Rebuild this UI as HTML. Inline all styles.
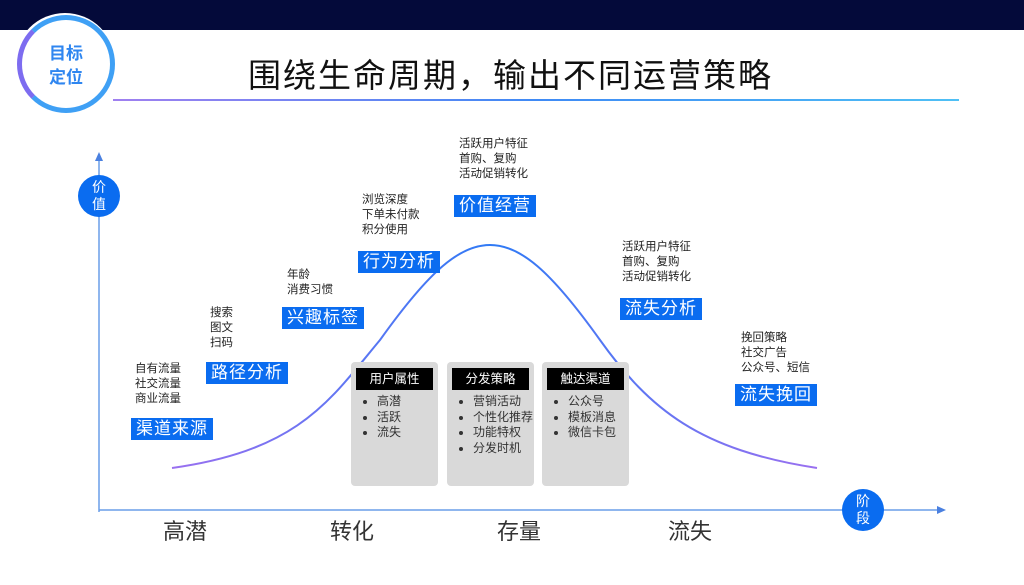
<!DOCTYPE html>
<html><head><meta charset="utf-8"><style>
body{margin:0;width:1024px;height:585px;position:relative;background:#fff;overflow:hidden;font-family:"Liberation Sans","Noto Sans CJK SC",sans-serif;}
.a{position:absolute;}
.bl{position:absolute;background:#0a6cf0;color:#fff;font-size:17px;line-height:22px;padding:0 5px;white-space:nowrap;letter-spacing:1px;}
.t{position:absolute;font-size:11.5px;line-height:15px;color:#222;white-space:nowrap;}
.box{position:absolute;background:#d9d9d9;border-radius:4px;width:87px;height:124px;top:362px;}
.hd{position:absolute;left:5px;top:6px;width:77px;height:22px;background:#000;color:#fff;font-size:12.5px;line-height:22px;text-align:center;}
.box ul{position:absolute;left:0;top:32px;margin:0;padding-left:26px;font-size:12px;line-height:15.5px;color:#333;}
.ax{position:absolute;font-size:22px;color:#333;}
.cir{position:absolute;width:42px;height:42px;border-radius:50%;background:#0a6cf0;color:#fff;font-size:14px;line-height:17px;text-align:center;}
</style></head><body>
<div class="a" style="left:0;top:0;width:1024px;height:30px;background:#040a3a;"></div>
<div class="a" style="left:15px;top:13px;width:100px;height:100px;border-radius:50%;background:#fff;"></div>
<div class="a" style="left:17px;top:15px;width:88px;height:88px;border-radius:50%;border:5px solid #3fa0f5;border-left-color:#7d6cf0;"></div>
<div class="a" style="left:46px;top:42px;color:#2f86f0;font-size:17px;line-height:24px;font-weight:bold;text-align:center;width:40px;">目标<br>定位</div>
<div class="a" style="left:248px;top:49px;font-size:33px;letter-spacing:2px;color:#111;">围绕生命周期，输出不同运营策略</div>
<div class="a" style="left:113px;top:99px;width:846px;height:2px;background:linear-gradient(90deg,#a080f0,#3f8af5,#4fc0f5);"></div>
<svg class="a" style="left:0;top:0" width="1024" height="585">
<defs><linearGradient id="g" x1="0" x2="1"><stop offset="0" stop-color="#9a70f0"/><stop offset="0.5" stop-color="#2f7af5"/><stop offset="1" stop-color="#9a70f0"/></linearGradient></defs>
<line x1="99" y1="512" x2="99" y2="158" stroke="#6a9ee8" stroke-width="1.5"/>
<polygon points="99,152 95,161 103,161" fill="#4a80e0"/>
<line x1="99" y1="510" x2="940" y2="510" stroke="#6a9ee8" stroke-width="1.5"/>
<polygon points="946,510 937,506 937,514" fill="#4a80e0"/>
<path d="M172,468 C300,450 330,400 380,340 C430,270 460,245 490,245 C520,245 550,270 600,340 C650,410 700,450 817,468" fill="none" stroke="url(#g)" stroke-width="2"/>
</svg>
<div class="cir" style="left:78px;top:175px;padding-top:4px;height:38px;">价<br>值</div>
<div class="cir" style="left:842px;top:489px;padding-top:4px;height:38px;">阶<br>段</div>
<div class="ax" style="left:163px;top:514px;">高潜</div>
<div class="ax" style="left:330px;top:514px;">转化</div>
<div class="ax" style="left:497px;top:514px;">存量</div>
<div class="ax" style="left:668px;top:514px;">流失</div>
<div class="t" style="left:135px;top:362px;">自有流量<br>社交流量<br>商业流量</div>
<div class="bl" style="left:131px;top:418px;">渠道来源</div>
<div class="t" style="left:210px;top:306px;">搜索<br>图文<br>扫码</div>
<div class="bl" style="left:206px;top:362px;">路径分析</div>
<div class="t" style="left:287px;top:268px;">年龄<br>消费习惯</div>
<div class="bl" style="left:282px;top:307px;">兴趣标签</div>
<div class="t" style="left:362px;top:193px;">浏览深度<br>下单未付款<br>积分使用</div>
<div class="bl" style="left:358px;top:251px;">行为分析</div>
<div class="t" style="left:459px;top:137px;">活跃用户特征<br>首购、复购<br>活动促销转化</div>
<div class="bl" style="left:454px;top:195px;">价值经营</div>
<div class="t" style="left:622px;top:240px;">活跃用户特征<br>首购、复购<br>活动促销转化</div>
<div class="bl" style="left:620px;top:298px;">流失分析</div>
<div class="t" style="left:741px;top:331px;">挽回策略<br>社交广告<br>公众号、短信</div>
<div class="bl" style="left:735px;top:384px;">流失挽回</div>
<div class="box" style="left:351px;"><div class="hd">用户属性</div><ul><li>高潜</li><li>活跃</li><li>流失</li></ul></div>
<div class="box" style="left:447px;"><div class="hd">分发策略</div><ul><li>营销活动</li><li>个性化推荐</li><li>功能特权</li><li>分发时机</li></ul></div>
<div class="box" style="left:542px;"><div class="hd">触达渠道</div><ul><li>公众号</li><li>模板消息</li><li>微信卡包</li></ul></div>
</body></html>
